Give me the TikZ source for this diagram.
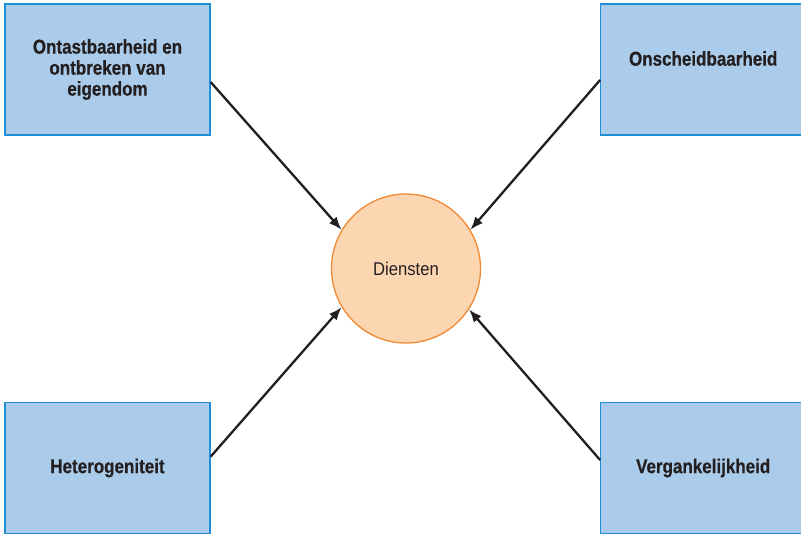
\documentclass[tikz,border=0pt]{standalone}
\usepackage{fontspec}
\newfontfamily\boxfont[FakeStretch=0.85,BoldFeatures={FakeBold=0.5}]{Liberation Sans}
\newfontfamily\circfont[FakeStretch=0.9]{Liberation Sans}
\usetikzlibrary{arrows.meta}
\definecolor{boxfill}{HTML}{AACBEA}
\definecolor{boxline}{HTML}{1E8FD5}
\definecolor{circfill}{HTML}{FCD5B1}
\definecolor{circline}{HTML}{F08A34}
\definecolor{ink}{HTML}{231F20}
\begin{document}
\begin{tikzpicture}[x=1pt,y=-1pt,
  feature/.style={draw=boxline, fill=boxfill, line width=1.2pt, minimum width=205pt, minimum height=131pt, inner sep=0pt, align=center, text=ink, font=\boxfont\bfseries\fontsize{20}{21}\selectfont},
  core/.style={circle, draw=circline, fill=circfill, line width=1.3pt, minimum size=149pt, inner sep=0pt, text=ink, font=\circfont\fontsize{18.5}{20}\selectfont},
  arr/.style={draw=ink, line width=2.3pt, -{Latex[length=13pt,width=10pt]}}]
\useasboundingbox (0,0) rectangle (801,535);
\fill[white] (0,0) rectangle (801,535);
\node[feature] (tl) at (107.5,69.5) {Ontastbaarheid en\\ontbreken van\\eigendom};
\node[feature] (tr) at (703.2,69.5) {\raisebox{11pt}[\height][\depth]{Onscheidbaarheid}};
\node[feature] (bl) at (107.5,468) {Heterogeniteit};
\node[feature] (br) at (703.2,468) {Vergankelijkheid};
\node[core] (c) at (406,268.5) {Diensten};
\draw[arr] ([yshift=-12.5pt]tl.east) -- (c.149);
\draw[arr] ([yshift=-10.5pt]tr.west) -- (c.31.5);
\draw[arr] ([yshift=11.3pt]bl.east) -- (c.211);
\draw[arr] ([yshift=8pt]br.west) -- (c.327);
\end{tikzpicture}
\end{document}
